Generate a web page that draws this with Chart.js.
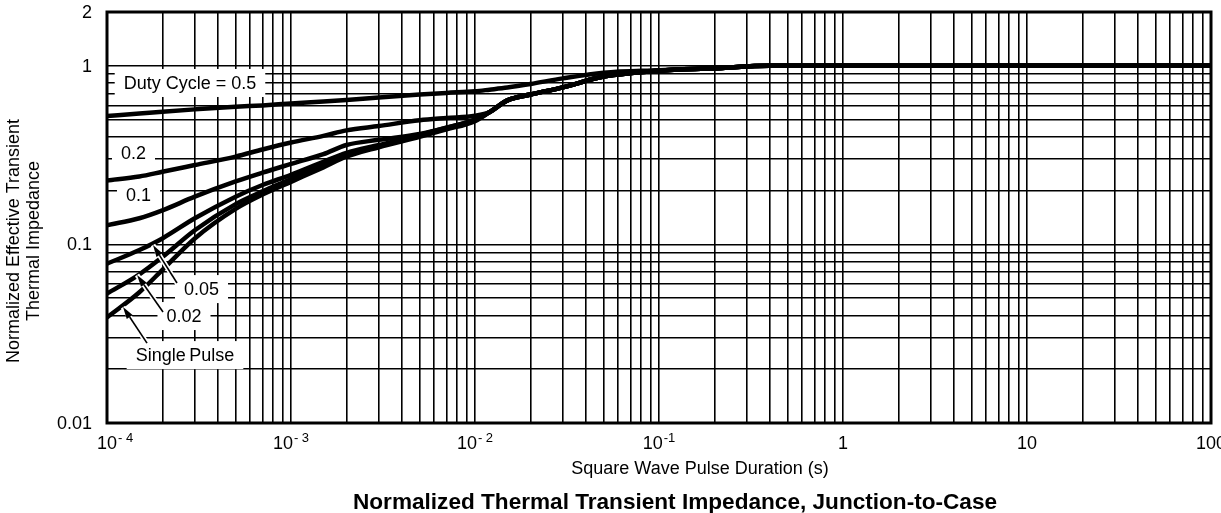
<!DOCTYPE html>
<html>
<head>
<meta charset="utf-8">
<script src="https://cdn.jsdelivr.net/npm/chart.js@4.4.1/dist/chart.umd.min.js"></script>
<style>
html,body{margin:0;padding:0;background:#fff;overflow:hidden}
#wrap{width:1221px;height:513px;position:relative}
</style>
</head>
<body>
<div id="wrap"><canvas id="c" width="1221" height="513"></canvas></div>
<script>
// ---- data ----
const durations = [1e-4, 1.5e-4, 2e-4, 3e-4, 5e-4, 7e-4, 1e-3, 1.5e-3, 2e-3, 3e-3, 5e-3, 7e-3, 1e-2, 1.2e-2, 1.5e-2, 2e-2, 3e-2, 5e-2, 0.1, 0.2, 0.4, 1, 10, 100];
const duty05  = [0.523, 0.54, 0.553, 0.57, 0.59, 0.60, 0.615, 0.63, 0.643, 0.665, 0.69, 0.705, 0.72, 0.735, 0.755, 0.79, 0.85, 0.915, 0.945, 0.97, 1.0, 1.0, 1.0, 1.0];
const duty02  = [0.228, 0.24, 0.255, 0.278, 0.31, 0.34, 0.372, 0.405, 0.435, 0.46, 0.495, 0.51, 0.525, 0.55, 0.64, 0.69, 0.757, 0.87, 0.94, 0.968, 1.0, 1.0, 1.0, 1.0];
const duty01  = [0.128, 0.14, 0.155, 0.185, 0.225, 0.252, 0.282, 0.32, 0.36, 0.385, 0.415, 0.45, 0.50, 0.55, 0.64, 0.69, 0.757, 0.87, 0.94, 0.968, 1.0, 1.0, 1.0, 1.0];
const duty005 = [0.078, 0.093, 0.108, 0.14, 0.185, 0.215, 0.245, 0.29, 0.325, 0.36, 0.41, 0.45, 0.50, 0.55, 0.64, 0.69, 0.757, 0.87, 0.94, 0.968, 1.0, 1.0, 1.0, 1.0];
const duty002 = [0.053, 0.068, 0.085, 0.12, 0.168, 0.198, 0.232, 0.28, 0.315, 0.355, 0.405, 0.445, 0.495, 0.55, 0.64, 0.69, 0.757, 0.87, 0.94, 0.968, 1.0, 1.0, 1.0, 1.0];
const singlePulse = [0.039, 0.054, 0.072, 0.108, 0.158, 0.19, 0.224, 0.27, 0.31, 0.35, 0.40, 0.44, 0.49, 0.55, 0.64, 0.69, 0.757, 0.87, 0.94, 0.968, 1.0, 1.0, 1.0, 1.0];

const seriesNames = ['0.5', '0.2', '0.1', '0.05', '0.02', 'Single Pulse'];
const seriesValues = [duty05, duty02, duty01, duty005, duty002, singlePulse];

const xTickValues = [1e-4, 1e-3, 1e-2, 1e-1, 1, 10, 100];
const xTickBase   = ['10', '10', '10', '10', '1', '10', '100'];
const xTickExp    = ['- 4', '- 3', '- 2', '-1', '', '', ''];
const yTickValues = [2, 1, 0.1, 0.01];
const yTickLabels = ['2', '1', '0.1', '0.01'];

const titleText = 'Normalized Thermal Transient Impedance, Junction-to-Case';
const xTitle = 'Square Wave Pulse Duration (s)';
const yTitleLines = ['Normalized Effective Transient', 'Thermal Impedance'];

// in-plot labels (data coordinates) and arrows (tail -> tip, data coordinates)
const curveLabels = [
  {text: 'Duty Cycle = 0.5', x: 2.825e-4, y: 0.801},
  {text: '0.2', x: 1.393e-4, y: 0.3248},
  {text: '0.1', x: 1.483e-4, y: 0.189},
  {text: '0.05', x: 3.263e-4, y: 0.0562},
  {text: '0.02', x: 2.621e-4, y: 0.0397},
  {text: 'Single\u2009Pulse', x: 2.654e-4, y: 0.0240}
];
const labelArrows = [
  {from: [2.401e-4, 0.0608], to: [1.778e-4, 0.0992]},
  {from: [2.016e-4, 0.0418], to: [1.456e-4, 0.0674]},
  {from: [1.650e-4, 0.0280], to: [1.222e-4, 0.0446]}
];

// grid positions: every 1..9 x 10^n
function logGrid(minExp, maxExp) {
  const out = [];
  for (let e = minExp; e < maxExp; e++) for (let m = 1; m <= 9; m++) out.push(+(m * Math.pow(10, e)).toPrecision(6));
  out.push(Math.pow(10, maxExp));
  return out;
}
const xGrid = logGrid(-4, 2);
const yGrid = logGrid(-2, 0).concat([2]);

const FONT = '"Liberation Sans", Arial, Helvetica, sans-serif';

const overlay = {
  id: 'overlay',
  beforeDatasetsDraw(chart) {
    const ctx = chart.ctx, xs = chart.scales.x, ys = chart.scales.y;
    ctx.save();
    ctx.font = '18px ' + FONT;
    ctx.fillStyle = '#fff';
    curveLabels.forEach(l => {
      const cx = xs.getPixelForValue(l.x), cy = ys.getPixelForValue(l.y);
      const w = ctx.measureText(l.text).width;
      ctx.fillRect(cx - w / 2 - 9, cy - 14, w + 18, 28);
    });
    ctx.restore();
  },
  afterDatasetsDraw(chart) {
    const ctx = chart.ctx, xs = chart.scales.x, ys = chart.scales.y, a = chart.chartArea;
    ctx.save();
    // frame
    ctx.strokeStyle = '#000';
    ctx.lineWidth = 3;
    ctx.strokeRect(a.left, a.top, a.right - a.left, a.bottom - a.top);

    // arrows
    labelArrows.forEach(ar => {
      const x1 = xs.getPixelForValue(ar.from[0]), y1 = ys.getPixelForValue(ar.from[1]);
      const x2 = xs.getPixelForValue(ar.to[0]), y2 = ys.getPixelForValue(ar.to[1]);
      const ang = Math.atan2(y2 - y1, x2 - x1);
      const hl = 12, hw = 3.5;
      const bx = x2 - hl * Math.cos(ang), by = y2 - hl * Math.sin(ang);
      ctx.lineCap = 'butt';
      ctx.strokeStyle = '#fff'; ctx.lineWidth = 5;
      ctx.beginPath(); ctx.moveTo(x1, y1); ctx.lineTo(x2, y2); ctx.stroke();
      ctx.strokeStyle = '#000'; ctx.lineWidth = 1.6;
      ctx.beginPath(); ctx.moveTo(x1, y1); ctx.lineTo(bx, by); ctx.stroke();
      ctx.fillStyle = '#000';
      ctx.beginPath();
      ctx.moveTo(x2, y2);
      ctx.lineTo(bx + hw * Math.sin(ang), by - hw * Math.cos(ang));
      ctx.lineTo(bx - hw * Math.sin(ang), by + hw * Math.cos(ang));
      ctx.closePath(); ctx.fill();
    });

    // curve labels
    ctx.fillStyle = '#000';
    ctx.font = '18px ' + FONT;
    ctx.textAlign = 'center';
    ctx.textBaseline = 'middle';
    curveLabels.forEach(l => {
      ctx.fillText(l.text, xs.getPixelForValue(l.x), ys.getPixelForValue(l.y) + 1);
    });

    // y tick labels
    ctx.textAlign = 'right';
    yTickValues.forEach((v, i) => {
      ctx.fillText(yTickLabels[i], a.left - 15, ys.getPixelForValue(v) + 1);
    });

    // x tick labels with superscript exponents
    ctx.textAlign = 'left';
    ctx.textBaseline = 'alphabetic';
    xTickValues.forEach((v, i) => {
      const px = xs.getPixelForValue(v);
      ctx.font = '18px ' + FONT;
      const w1 = ctx.measureText(xTickBase[i]).width;
      ctx.font = '13px ' + FONT;
      const w2 = xTickExp[i] ? ctx.measureText(xTickExp[i]).width + 1 : 0;
      let start = px - (w1 + w2) / 2;
      if (start < a.left - 10) start = a.left - 10;
      ctx.font = '18px ' + FONT;
      ctx.fillText(xTickBase[i], start, a.bottom + 26);
      if (xTickExp[i]) {
        ctx.font = '13px ' + FONT;
        ctx.fillText(xTickExp[i], start + w1 + 1, a.bottom + 19);
      }
    });

    // axis titles
    ctx.font = '18px ' + FONT;
    ctx.textAlign = 'center';
    ctx.textBaseline = 'middle';
    ctx.fillText(xTitle, 700, 469);
    ctx.save();
    ctx.translate(14, 241);
    ctx.rotate(-Math.PI / 2);
    ctx.fillText(yTitleLines[0], 0, 0);
    ctx.restore();
    ctx.save();
    ctx.translate(34, 241);
    ctx.rotate(-Math.PI / 2);
    ctx.fillText(yTitleLines[1], 0, 0);
    ctx.restore();

    // chart title
    ctx.font = 'bold 22.6px ' + FONT;
    ctx.fillText(titleText, 675, 503);
    ctx.restore();
  }
};

const datasets = seriesValues.map((vals, si) => ({
  label: seriesNames[si],
  data: durations.map((t, i) => ({x: t, y: vals[i]})),
  borderColor: '#000',
  backgroundColor: '#000',
  borderWidth: 4.5,
  pointRadius: 0,
  fill: false,
  cubicInterpolationMode: 'monotone'
}));

new Chart(document.getElementById('c'), {
  type: 'line',
  data: {datasets},
  options: {
    responsive: false,
    animation: false,
    devicePixelRatio: 1,
    layout: {padding: {left: 107, top: 12, right: 10, bottom: 90}},
    plugins: {legend: {display: false}, tooltip: {enabled: false}, title: {display: false}},
    scales: {
      x: {
        type: 'logarithmic', min: 1e-4, max: 100,
        ticks: {display: false},
        grid: {color: '#000', lineWidth: 1.6, drawTicks: false},
        border: {display: false},
        afterBuildTicks: s => { s.ticks = xGrid.map(v => ({value: v})); }
      },
      y: {
        type: 'logarithmic', min: 0.01, max: 2,
        ticks: {display: false},
        grid: {color: '#000', lineWidth: 1.6, drawTicks: false},
        border: {display: false},
        afterBuildTicks: s => { s.ticks = yGrid.map(v => ({value: v})); }
      }
    }
  },
  plugins: [overlay]
});
</script>
</body>
</html>
